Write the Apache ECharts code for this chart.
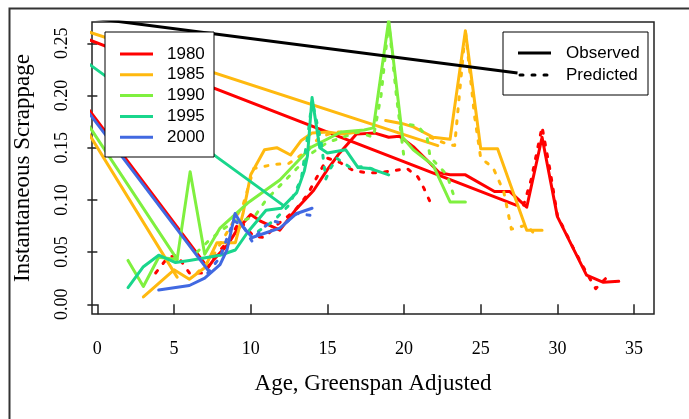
<!DOCTYPE html>
<html><head><meta charset="utf-8">
<script src="https://cdn.jsdelivr.net/npm/echarts@6/dist/echarts.min.js"></script>
<style>html,body{margin:0;padding:0;background:#fff}#c{width:689px;height:419px}</style>
</head><body><div id="c"></div>
<script>
// ---- tick labels ----
const xTicks = [0, 5, 10, 15, 20, 25, 30, 35];
const yTicks = [0, 0.05, 0.10, 0.15, 0.20, 0.25];
const years = ['1980', '1985', '1990', '1995', '2000'];
const colors = ['#FF0000', '#FFB90F', '#7FF03F', '#19D68C', '#4169E1'];

// ---- 1980 ----
const red_wrap = [[-1, 0.256], [27.3, 0.095]];
const red_obs = [[-1, 0.195], [7.2, 0.035], [7.6, 0.043], [8.5, 0.057], [9.1, 0.071], [10.0, 0.086], [10.6, 0.080], [11.9, 0.071], [12.9, 0.090], [14.1, 0.109], [15.0, 0.129], [15.8, 0.145], [16.9, 0.163], [18.1, 0.164], [19.0, 0.160], [19.7, 0.161], [20.6, 0.151], [21.5, 0.138], [22.3, 0.126], [23.0, 0.124], [24.0, 0.124], [25.9, 0.108], [26.9, 0.108], [28.0, 0.093], [29.0, 0.160], [30.0, 0.084], [31.9, 0.028], [33.0, 0.021], [34.0, 0.022]];
const red_pred = [[3.8, 0.030], [4.6, 0.045], [5.2, 0.047], [6.0, 0.030], [7.0, 0.030], [7.6, 0.045], [8.5, 0.060], [9.3, 0.080], [10.2, 0.065], [10.9, 0.064], [11.7, 0.076], [12.4, 0.084], [13.0, 0.092], [13.7, 0.105], [14.1, 0.116], [15.0, 0.140], [15.8, 0.136], [16.7, 0.128], [17.6, 0.126], [18.4, 0.126], [19.3, 0.128], [20.2, 0.130], [20.9, 0.122], [21.3, 0.111], [21.7, 0.098]];
const red_pred2 = [[27.8, 0.095], [28.3, 0.120], [29.0, 0.170], [29.5, 0.130], [30.0, 0.085], [31.0, 0.055], [31.9, 0.030], [32.5, 0.015], [33.3, 0.027]];

// ---- 1985 ----
const orange_wrap = [[-1, 0.263], [22.2, 0.152]];
const orange_diag = [[-1, 0.174], [5.2, 0.026]];
const orange_obs = [[3.0, 0.007], [4.0, 0.020], [5.0, 0.033], [6.0, 0.024], [7.0, 0.035], [7.8, 0.059], [9.0, 0.059], [9.5, 0.087], [10.0, 0.124], [10.9, 0.148], [11.7, 0.150], [12.6, 0.143], [13.3, 0.157], [14.0, 0.164], [15.0, 0.165], [16.0, 0.163], [17.0, 0.165]];
const orange_obs2 = [[18.8, 0.176], [19.9, 0.173], [20.6, 0.170], [21.9, 0.160], [23.0, 0.158], [24.0, 0.262], [25.0, 0.149], [26.1, 0.149], [28.0, 0.071], [29.0, 0.071]];
const orange_pred = [[6.5, 0.030], [7.5, 0.045], [8.5, 0.070], [9.5, 0.095], [10.2, 0.130], [11.5, 0.134], [12.5, 0.135], [13.5, 0.145], [14.5, 0.160], [15.5, 0.165], [16.5, 0.165]];
const orange_pred2 = [[21.7, 0.160], [22.2, 0.157], [22.9, 0.153], [23.3, 0.152], [24.0, 0.262], [24.6, 0.180], [25.0, 0.140], [25.8, 0.131], [26.5, 0.108], [27.0, 0.072], [28.0, 0.076], [28.7, 0.064]];

// ---- 1990 ----
const green_diag = [[-1, 0.181], [5.2, 0.043]];
const green_obs = [[2.0, 0.042], [3.0, 0.017], [4.0, 0.045], [5.2, 0.043], [6.05, 0.127], [7.0, 0.048], [8.0, 0.073], [9.8, 0.097], [11.9, 0.119], [13.9, 0.150], [15.9, 0.165], [17.4, 0.167], [18.0, 0.169], [19.0, 0.272], [19.9, 0.160], [20.6, 0.148], [21.9, 0.133], [23.0, 0.098], [24.0, 0.098]];
const green_pred = [[6.5, 0.050], [7.2, 0.060], [8.0, 0.070], [9.0, 0.080], [9.5, 0.080], [10.3, 0.085], [11.0, 0.100], [12.0, 0.115], [13.0, 0.130], [14.0, 0.145], [15.0, 0.155], [16.0, 0.160], [17.0, 0.165], [18.0, 0.160], [18.5, 0.200], [19.0, 0.270], [19.5, 0.200], [20.0, 0.140]];
const green_pred2 = [[20.4, 0.172], [20.9, 0.171], [21.5, 0.160], [21.7, 0.141], [22.8, 0.124], [23.2, 0.106]];

// ---- 1995 ----
const teal_diag = [[-1, 0.235], [12.1, 0.095]];
const teal_obs = [[2.0, 0.016], [3.0, 0.036], [4.0, 0.047], [5.1, 0.040], [6.0, 0.042], [8.0, 0.047], [9.0, 0.052], [9.8, 0.069], [11.0, 0.090], [12.0, 0.092], [13.0, 0.107], [13.5, 0.128], [13.7, 0.142], [14.0, 0.198], [14.5, 0.150], [15.0, 0.145], [16.2, 0.148], [17.0, 0.131], [17.8, 0.130], [19.0, 0.124]];
const teal_pred = [[10.5, 0.070], [11.5, 0.080], [12.5, 0.095], [13.3, 0.120], [13.8, 0.170], [14.0, 0.195], [14.6, 0.155], [14.9, 0.120], [15.2, 0.130], [15.6, 0.140], [16.5, 0.131], [17.4, 0.132], [18.3, 0.128]];

// ---- 2000 ----
const blue_diag = [[-1, 0.192], [7.2, 0.033]];
const blue_obs = [[4.0, 0.0137], [6.0, 0.018], [7.0, 0.025], [8.0, 0.038], [8.45, 0.052], [8.98, 0.087], [9.5, 0.074], [10.1, 0.064], [11.1, 0.069], [11.9, 0.073], [13.0, 0.087], [14.0, 0.092]];
const blue_pred = [[7.2, 0.030], [8.0, 0.045], [8.5, 0.065], [8.9, 0.080], [9.5, 0.075], [10.1, 0.060], [10.7, 0.072], [11.4, 0.080], [12.2, 0.077], [13.0, 0.087], [14.0, 0.085]];

// ---- black reference line ----
const black_line = [[-1, 0.2754], [27.4, 0.2215]];

const groups = [
  {c: 0, solid: [red_obs, red_wrap], dash: [red_pred, red_pred2]},
  {c: 1, solid: [orange_obs, orange_obs2, orange_wrap, orange_diag], dash: [orange_pred, orange_pred2]},
  {c: 2, solid: [green_obs, green_diag], dash: [green_pred, green_pred2]},
  {c: 3, solid: [teal_obs, teal_diag], dash: [teal_pred]},
  {c: 4, solid: [blue_obs, blue_diag], dash: [blue_pred]}
];

const series = [];
groups.forEach(g => {
  g.solid.forEach(d => series.push({type: 'line', data: d, symbol: 'none', clip: true, silent: true,
    lineStyle: {color: colors[g.c], width: 3, cap: 'round', join: 'round'}}));
  g.dash.forEach(d => series.push({type: 'line', data: d, symbol: 'none', clip: true, silent: true,
    lineStyle: {color: colors[g.c], width: 3, type: [3, 9], cap: 'round', join: 'round'}}));
});
series.push({type: 'line', data: black_line, symbol: 'none', clip: true, silent: true,
  lineStyle: {color: '#000', width: 3}});

const serif = '"Liberation Serif", "DejaVu Serif", serif';
const sans = '"Liberation Sans", Arial, sans-serif';

const graphic = [
  {type: 'rect', left: 7, top: 6, shape: {x: 0, y: 0, width: 700, height: 440}, style: {fill: 'none', stroke: '#333', lineWidth: 2}, z: 0},
  {type: 'rect', z: 100, shape: {x: 105, y: 32, width: 109, height: 125}, style: {fill: '#fff', stroke: '#000', lineWidth: 1}}
];
years.forEach((yr, i) => {
  const yy = 54 + i * 20.8;
  graphic.push({type: 'line', z: 101, shape: {x1: 120, y1: yy, x2: 153, y2: yy}, style: {stroke: colors[i], lineWidth: 3}});
  graphic.push({type: 'text', z: 101, x: 167, y: yy, style: {text: yr, font: '17px ' + sans, fill: '#000', textVerticalAlign: 'middle'}});
});
graphic.push({type: 'rect', z: 100, shape: {x: 503, y: 32, width: 145, height: 63}, style: {fill: 'none', stroke: '#000', lineWidth: 1}});
graphic.push({type: 'line', z: 101, shape: {x1: 518, y1: 53, x2: 551, y2: 53}, style: {stroke: '#000', lineWidth: 3}});
graphic.push({type: 'line', z: 101, shape: {x1: 520, y1: 75, x2: 551, y2: 75}, style: {stroke: '#000', lineWidth: 3, lineDash: [3, 9], lineCap: 'round'}});
graphic.push({type: 'text', z: 101, x: 566, y: 53, style: {text: 'Observed', font: '17px ' + sans, fill: '#000', textVerticalAlign: 'middle'}});
graphic.push({type: 'text', z: 101, x: 566, y: 75, style: {text: 'Predicted', font: '17px ' + sans, fill: '#000', textVerticalAlign: 'middle'}});

const chart = echarts.init(document.getElementById('c'), null, {renderer: 'canvas'});
chart.setOption({
  animation: false,
  backgroundColor: '#fff',
  grid: {left: 92, top: 22, right: 35, bottom: 105, show: true, borderColor: '#222', borderWidth: 1.5, backgroundColor: 'transparent'},
  xAxis: {
    type: 'value', min: -0.35, max: 36.3,
    name: 'Age, Greenspan Adjusted', nameLocation: 'middle', nameGap: 58,
    nameTextStyle: {fontFamily: serif, fontSize: 23, color: '#000'},
    axisLine: {show: false},
    axisTick: {show: true, length: 10, lineStyle: {color: '#222', width: 1.5}, customValues: xTicks},
    axisLabel: {customValues: xTicks, fontFamily: serif, fontSize: 18, color: '#000', margin: 26},
    splitLine: {show: false}
  },
  yAxis: {
    type: 'value', min: -0.0093, max: 0.2704,
    name: 'Instantaneous Scrappage', nameLocation: 'middle', nameGap: 58,
    nameTextStyle: {fontFamily: serif, fontSize: 23, color: '#000'},
    axisLine: {show: false},
    axisTick: {show: true, length: 10, lineStyle: {color: '#222', width: 1.5}, customValues: yTicks},
    axisLabel: {customValues: yTicks, rotate: 90, fontFamily: serif, fontSize: 18, color: '#000', margin: 21,
      formatter: v => v.toFixed(2)},
    splitLine: {show: false}
  },
  series: series,
  graphic: graphic
});
</script></body></html>
